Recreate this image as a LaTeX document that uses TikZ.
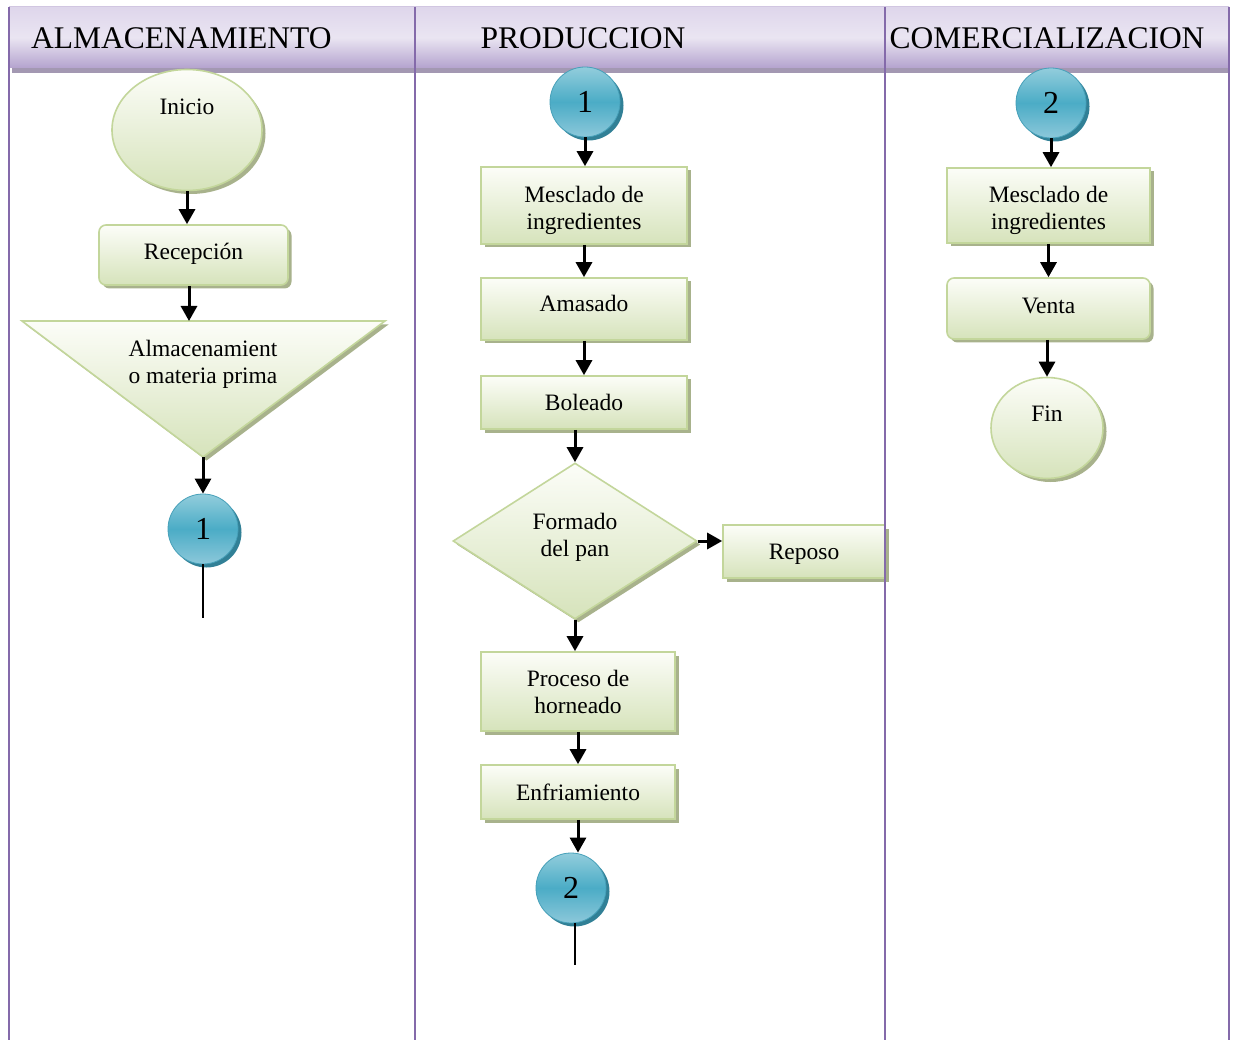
\documentclass[tikz,border=0pt]{standalone}
\usepackage{fontspec}
\setmainfont{Liberation Serif}
\usetikzlibrary{shapes.geometric,arrows.meta,shadows}

\definecolor{gborder}{RGB}{195,214,155}
\definecolor{gtop}{RGB}{252,253,248}
\definecolor{gbot}{RGB}{214,227,187}
\definecolor{gshadow}{RGB}{168,178,140}
\definecolor{btop}{RGB}{146,205,220}
\definecolor{bmid}{RGB}{75,172,198}
\definecolor{bbot}{RGB}{140,200,218}
\definecolor{bedge}{RGB}{70,160,185}
\definecolor{bshadow}{RGB}{49,128,150}
\definecolor{lane}{RGB}{132,106,170}
\definecolor{htop}{RGB}{222,214,235}
\definecolor{hmid}{RGB}{234,229,242}
\definecolor{hbot}{RGB}{180,163,206}
\definecolor{hshadow}{RGB}{163,152,178}

\newcommand{\boxfont}{\fontsize{23.5}{27}\selectfont}
\newcommand{\hdrfont}{\fontsize{31.5}{36}\selectfont}
\newcommand{\numfont}{\fontsize{32}{36}\selectfont}
% stacked lines of a label
\newcommand{\twolines}[1]{\begin{tabular}{@{}c@{}}#1\end{tabular}}
% move a label up (extra depth) or down (extra height) by half the given length
\newcommand{\txtup}[2]{\raisebox{0pt}[\height][\dimexpr\depth+#1\relax]{#2}}
\newcommand{\txtdown}[2]{\raisebox{0pt}[\dimexpr\height+#1\relax][\depth]{#2}}

\tikzset{
  greenfill/.style={draw=gborder, line width=1.6pt, top color=gtop, bottom color=gbot,
    drop shadow={shadow xshift=3.5pt, shadow yshift=-3.5pt, fill=gshadow, opacity=1}},
  procbox/.style={greenfill, rectangle, inner sep=0pt, align=center, font=\boxfont},
  roundbox/.style={procbox, rounded corners=7pt},
  termnode/.style={greenfill, ellipse, inner sep=0pt, font=\boxfont},
  decnode/.style={greenfill, diamond, inner sep=0pt, align=center, font=\boxfont},
  connode/.style={circle, draw=bedge, line width=0.8pt, minimum size=70pt, inner sep=0pt,
    top color=btop, bottom color=bbot, middle color=bmid, font=\numfont,
    drop shadow={shadow xshift=3.5pt, shadow yshift=-3.5pt, fill=bshadow, opacity=1}},
  arr/.style={-{Triangle[length=15pt,width=16pt]}, line width=3pt, black},
  tail/.style={line width=2pt, black},
  laneline/.style={draw=lane, line width=2.4pt},
}

\begin{document}
\begin{tikzpicture}[x=1pt,y=1pt]
\useasboundingbox (0,0) rectangle (1234,-1040);
\fill[white] (0,0) rectangle (1234,-1040);

% header band
\fill[hshadow] (12,-64) rectangle (1229,-73);
\shade[top color=htop, bottom color=hbot, middle color=hmid] (9,-7) rectangle (1229,-68);
\draw[draw=htop!85!lane, line width=1pt] (9,-7) -- (1229,-7);

% ---- ALMACENAMIENTO lane ----
\node[termnode, minimum width=150pt, minimum height=121pt] (inicio) at (187,-130) {\raisebox{46pt}{Inicio}};
\node[roundbox, minimum width=189pt, minimum height=60pt] (rec) at (193.5,-255) {\txtup{2pt}{Recepción}};
\fill[gshadow] (25.5,-324.5) -- (388.5,-324.5) -- (206.5,-460.5) -- cycle;
\shade[top color=gtop, bottom color=gbot] (22,-321) -- (385,-321) -- (203,-457) -- cycle;
\draw[draw=gborder, line width=1.6pt, line join=miter] (22,-321) -- (385,-321) -- (203,-457) -- cycle;
\coordinate (almtop) at (189,-321);
\coordinate (almapex) at (203,-457);
\node[font=\boxfont, inner sep=0pt] (almtxt) at (203,-364.5) {\twolines{Almacenamient\\o materia prima}};
\node[connode] (c1a) at (203,-529) {1};
\coordinate (end1) at (203,-618);

% ---- PRODUCCION lane ----
\node[connode] (c1b) at (585,-102) {1};
\node[procbox, minimum width=206pt, minimum height=77pt] (mez1) at (584,-205.5) {\txtdown{11pt}{\twolines{Mesclado de\\ingredientes}}};
\node[procbox, minimum width=206pt, minimum height=62pt] (ama) at (584,-309) {\txtup{12pt}{Amasado}};
\node[procbox, minimum width=206pt, minimum height=53pt] (bol) at (584,-402.5) {Boleado};
\node[decnode, minimum width=244pt, minimum height=156pt] (form) at (575,-541) {\txtup{6pt}{\twolines{Formado\\del pan}}};
\node[procbox, minimum width=162pt, minimum height=53pt] (rep) at (804,-551.5) {\txtdown{6pt}{Reposo}};
\node[procbox, minimum width=194pt, minimum height=79pt] (horn) at (578,-691.5) {\txtdown{7pt}{\twolines{Proceso de\\horneado}}};
\node[procbox, minimum width=194pt, minimum height=54pt] (enf) at (578,-792) {Enfriamiento};
\node[connode] (c2a) at (571,-888) {2};
\coordinate (end2) at (575,-965);

% ---- COMERCIALIZACION lane ----
\node[connode] (c2b) at (1051,-103) {2};
\node[procbox, minimum width=203pt, minimum height=75pt] (mez2) at (1048.5,-205.5) {\txtdown{11pt}{\twolines{Mesclado de\\ingredientes}}};
\node[roundbox, minimum width=203pt, minimum height=61pt] (venta) at (1048.5,-308.5) {\txtup{5pt}{Venta}};
\node[termnode, minimum width=112pt, minimum height=101pt] (fin) at (1047,-428) {\raisebox{28pt}{Fin}};

% connectors
\draw[arr] (inicio.south) -- (inicio.south |- rec.north);
\draw[arr] (rec.south -| almtop) -- (almtop);
\draw[arr] (almapex) -- (c1a.north);
\draw[tail] (c1a.south) -- (end1);

\draw[arr] (c1b.south) -- (c1b.south |- mez1.north);
\draw[arr] (mez1.south) -- (ama.north);
\draw[arr] (ama.south) -- (bol.north);
\draw[arr] (bol.south -| form.north) -- (form.north);
\draw[arr] (form.east) -- (rep.west |- form.east);
\draw[arr] (form.south) -- (form.south |- horn.north);
\draw[arr] (horn.south) -- (enf.north);
\draw[arr] (enf.south) -- (enf.south |- c2a.north);
\draw[tail] (c2a.south -| end2) -- (end2);

\draw[arr] (c2b.south) -- (c2b.south |- mez2.north);
\draw[arr] (mez2.south) -- (venta.north);
\draw[arr] (venta.south -| fin.north) -- (fin.north);

% swimlane borders
\draw[laneline] (9,-7) -- (9,-1040);
\draw[laneline] (415,-7) -- (415,-1040);
\draw[laneline] (885,-7) -- (885,-1040);
\draw[laneline] (1229,-7) -- (1229,-1040);

% lane titles
\node[font=\hdrfont, anchor=west, inner sep=0pt] (hdr1) at (31,-38) {ALMACENAMIENTO};
\node[font=\hdrfont, inner sep=0pt] (hdr2) at (583,-38) {PRODUCCION};
\node[font=\hdrfont, inner sep=0pt] (hdr3) at (1047,-38) {COMERCIALIZACION};
\end{tikzpicture}
\end{document}
